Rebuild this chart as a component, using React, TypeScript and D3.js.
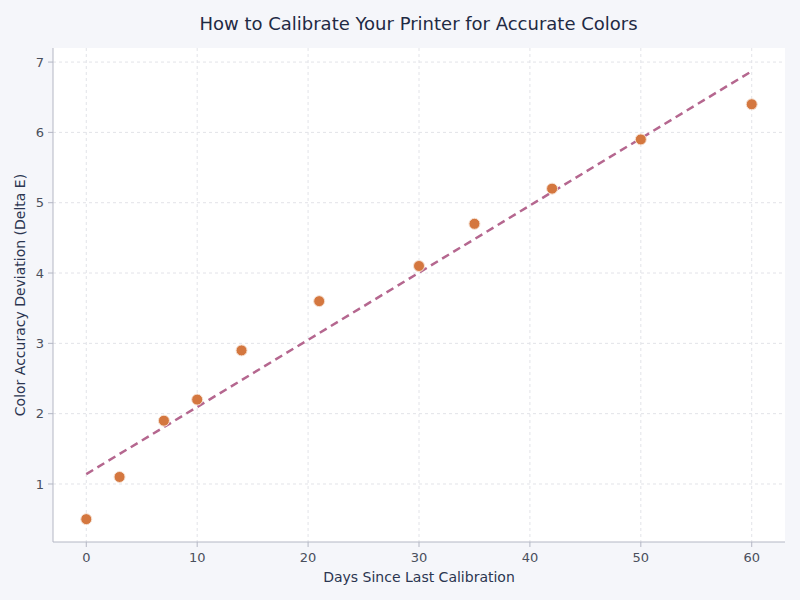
import * as d3 from "d3";

const days = [0, 3, 7, 10, 14, 21, 30, 35, 42, 50, 60];
const deltaE = [0.5, 1.1, 1.9, 2.2, 2.9, 3.6, 4.1, 4.7, 5.2, 5.9, 6.4];
const trendDays = [0, 60];
const trendDelta = [1.14, 6.87];
const xTicks = [0, 10, 20, 30, 40, 50, 60];
const yTicks = [1, 2, 3, 4, 5, 6, 7];

export default function App() {
  const width = 800;
  const height = 600;
  const margin = { top: 48, right: 15, bottom: 58, left: 53 };
  const x = d3.scaleLinear([-3, 63], [margin.left, width - margin.right]);
  const y = d3.scaleLinear([0.175, 7.2], [height - margin.bottom, margin.top]);
  const font = "'DejaVu Sans', sans-serif";
  const line = d3
    .line<number>()
    .x((_, i) => x(trendDays[i]))
    .y((d) => y(d));

  return (
    <svg
      width={width}
      height={height}
      style={{ position: "absolute", left: 0, top: 0, fontFamily: font }}
    >
      <rect width={width} height={height} fill="#f5f6fa" />
      <rect
        x={margin.left}
        y={margin.top}
        width={width - margin.left - margin.right}
        height={height - margin.top - margin.bottom}
        fill="#ffffff"
      />
      {xTicks.map((t) => (
        <line
          key={`gx${t}`}
          x1={x(t)}
          x2={x(t)}
          y1={margin.top}
          y2={height - margin.bottom}
          stroke="#e2e3e8"
          strokeDasharray="3,3"
        />
      ))}
      {yTicks.map((t) => (
        <line
          key={`gy${t}`}
          x1={margin.left}
          x2={width - margin.right}
          y1={y(t)}
          y2={y(t)}
          stroke="#e2e3e8"
          strokeDasharray="3,3"
        />
      ))}
      <line
        x1={margin.left}
        x2={margin.left}
        y1={margin.top}
        y2={height - margin.bottom}
        stroke="#b4b7c4"
      />
      <line
        x1={margin.left}
        x2={width - margin.right}
        y1={height - margin.bottom}
        y2={height - margin.bottom}
        stroke="#b4b7c4"
      />
      {xTicks.map((t) => (
        <g key={`tx${t}`}>
          <line
            x1={x(t)}
            x2={x(t)}
            y1={height - margin.bottom}
            y2={height - margin.bottom + 5}
            stroke="#b4b7c4"
          />
          <text
            x={x(t)}
            y={height - margin.bottom + 20}
            textAnchor="middle"
            fontSize={13}
            fill="#4a4f5c"
          >
            {t}
          </text>
        </g>
      ))}
      {yTicks.map((t) => (
        <g key={`ty${t}`}>
          <line
            x1={margin.left - 5}
            x2={margin.left}
            y1={y(t)}
            y2={y(t)}
            stroke="#b4b7c4"
          />
          <text
            x={margin.left - 9}
            y={y(t)}
            dy="0.35em"
            textAnchor="end"
            fontSize={13}
            fill="#4a4f5c"
          >
            {t}
          </text>
        </g>
      ))}
      <path
        d={line(trendDelta) ?? ""}
        fill="none"
        stroke="#b5678f"
        strokeWidth={2.5}
        strokeDasharray="8,5"
      />
      {days.map((d, i) => (
        <circle
          key={d}
          cx={x(d)}
          cy={y(deltaE[i])}
          r={5.5}
          fill="#d4773f"
          stroke="#f6e2d4"
          strokeWidth={1}
        />
      ))}
      <text
        x={418.5}
        y={29.5}
        textAnchor="middle"
        fontSize={18}
        fill="#1f2a44"
      >
        How to Calibrate Your Printer for Accurate Colors
      </text>
      <text
        x={(margin.left + width - margin.right) / 2}
        y={582}
        textAnchor="middle"
        fontSize={14}
        fill="#2b3550"
      >
        Days Since Last Calibration
      </text>
      <text
        transform={`translate(25,${(margin.top + height - margin.bottom) / 2}) rotate(-90)`}
        textAnchor="middle"
        fontSize={14}
        fill="#2b3550"
      >
        Color Accuracy Deviation (Delta E)
      </text>
    </svg>
  );
}
